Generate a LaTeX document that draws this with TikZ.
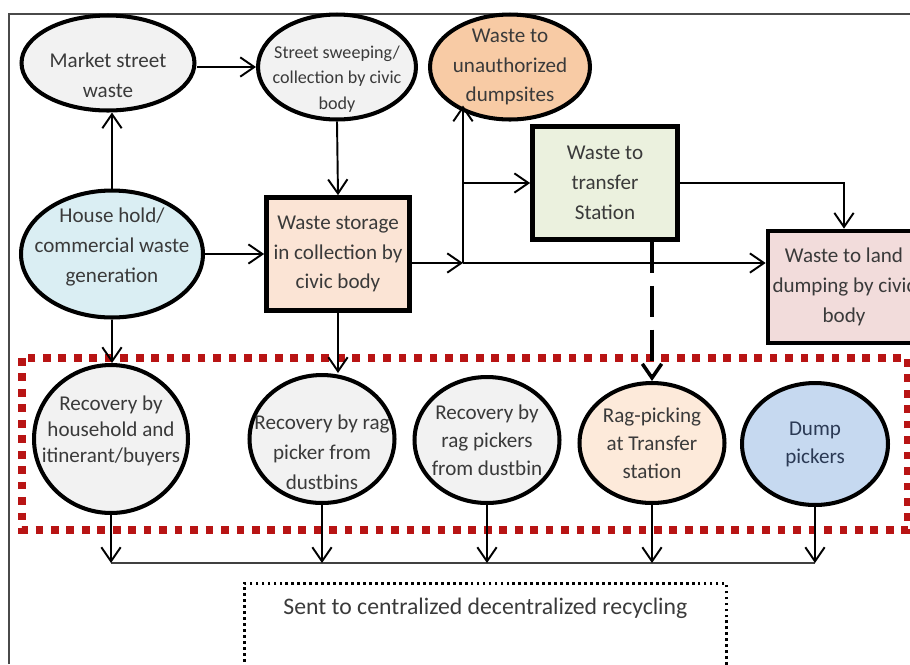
\documentclass[tikz,border=0pt]{standalone}
\usepackage{fontspec}
\setmainfont{Carlito}
\usetikzlibrary{positioning,arrows.meta,shapes.geometric}

\definecolor{txtgrey}{HTML}{3A3A3A}
\definecolor{framegrey}{HTML}{4A4A4A}
\definecolor{greyfill}{HTML}{F2F2F2}
\definecolor{bluefill}{HTML}{DAEEF3}
\definecolor{orangefill}{HTML}{F8CBA5}
\definecolor{peachfill}{HTML}{FBE4D5}
\definecolor{greenfill}{HTML}{EBF1DE}
\definecolor{pinkfill}{HTML}{F2DCDB}
\definecolor{ragfill}{HTML}{FDEADA}
\definecolor{dumpfill}{HTML}{C6D9F0}
\definecolor{dumptext}{HTML}{2B3A55}
\definecolor{zonered}{HTML}{B81414}

\begin{document}
\begin{tikzpicture}[x=0.02cm,y=-0.02cm,->,>={Straight Barb[length=8pt,width=11pt]},line width=1.1pt,
    blob/.style={ellipse,draw,line width=2.3pt,align=center,text=txtgrey,inner sep=-2cm},
    boxnode/.style={rectangle,draw,line width=2.7pt,align=center,text=txtgrey,inner sep=0pt},
    every label/.style={align=center,text=txtgrey,inner sep=0pt},
    zone/.style={-,draw=zonered,line width=4.4pt,dash pattern=on 4.4pt off 4.4pt},
    recbox/.style={rectangle,draw,line width=1.6pt,dash pattern=on 1.6pt off 1.8pt,text=txtgrey,inner ysep=0.3cm}]
    \tikzstyle{every node}=[font=\fontsize{12}{17}\selectfont]
    \useasboundingbox (0,0) rectangle (910,664);
    \clip (0,0) rectangle (910,664);
    \draw[-,framegrey,line width=1.2pt] (9,664) -- (9,14) -- (910,14);

    % top rows
    \node[blob,fill=greyfill,minimum width=3.46cm,minimum height=1.9cm,
        label={[yshift=-0.24cm]center:{Market street\\waste}}] (mkt) at (108,63) {};
    \node[blob,fill=greyfill,minimum width=3.16cm,minimum height=2.1cm,
        label={[yshift=-0.24cm,font=\fontsize{10.3}{14.7}\selectfont]center:{Street sweeping/\\collection by civic\\body}}] (swp) at (337,67) {};
    \node[blob,fill=orangefill,minimum width=3.2cm,minimum height=2.1cm] (dump) at (510,67) {Waste to\\unauthorized\\dumpsites};
    \node[blob,fill=bluefill,minimum width=3.64cm,minimum height=2.54cm,
        label={[yshift=0.14cm]center:{House hold/\\commercial waste\\generation}}] (hh) at (112,254) {};
    \node[boxnode,fill=peachfill,minimum width=2.86cm,minimum height=2.26cm] (store) at (338,254) {Waste storage\\in collection by\\civic body};
    \node[boxnode,fill=greenfill,minimum width=2.9cm,minimum height=2.26cm] (trans) at (605,183) {Waste to\\transfer\\Station};
    \node[boxnode,fill=pinkfill,minimum width=3.04cm,minimum height=2.24cm] (land) at (844,287) {Waste to land\\dumping by civic\\body};
    \coordinate (J) at (463,263);

    % recovery zone
    \draw[zone] (22,358) rectangle (908,530);
    \tikzstyle{every node}=[font=\fontsize{12}{16}\selectfont]
    \node[blob,fill=greyfill,minimum width=3.08cm,minimum height=2.96cm,
        label={[yshift=0.16cm,font=\fontsize{12}{15}\selectfont]center:{Recovery by\\household and\\itinerant/buyers}}] (rec1) at (111,439) {};
    \node[blob,fill=greyfill,minimum width=2.9cm,minimum height=2.56cm,
        label={[yshift=-0.26cm,font=\fontsize{12}{17}\selectfont]center:{Recovery by rag\\picker from\\dustbins}}] (rec2) at (322,439) {};
    \node[blob,fill=greyfill,minimum width=2.9cm,minimum height=2.52cm] (rec3) at (487,440) {Recovery by\\rag pickers\\from dustbin};
    \node[blob,fill=ragfill,minimum width=2.9cm,minimum height=2.4cm] (rag) at (652,443) {Rag-picking\\at Transfer\\station};
    \node[blob,fill=dumpfill,minimum width=2.92cm,minimum height=2.44cm,text=dumptext] (dp) at (815,444) {Dump\\pickers};

    \coordinate (busL) at (111,563);
    \coordinate (busR) at (815,563);
    \node[recbox,anchor=north west,minimum width=9.64cm,text depth=1.7cm,font=\fontsize{13.5}{16}\selectfont] (recyc) at (243,582) {Sent to centralized decentralized recycling};

    % flows
    \draw (hh.north) -- (hh.north |- mkt.south);
    \draw (mkt.east |- swp.west) -- (swp.west);
    \draw (swp.south) -- (store.north);
    \draw (hh.east) -- (store.west);
    \draw (store.east |- J) -- (J);
    \draw (J) -- (J |- dump.south west);
    \draw (J |- trans.west) -- (trans.west);
    \draw (J) -- (J -| land.west);
    \draw (trans.east) -| (land.north);
    \draw[line width=2pt,dash pattern=on 18pt off 7pt] (trans.south -| rag.north) -- (rag.north);
    \draw (hh.south) -- (hh.south |- rec1.north);
    \draw (store.south) -- (store.south |- rec2.north);

    % to recycling
    \draw[-,line width=0.8pt,black!75] (busL) -- (busR);
    \foreach \n in {rec1,rec2,rec3,rag,dp}
        \draw (\n.south) -- (\n.south |- busL);
\end{tikzpicture}
\end{document}
